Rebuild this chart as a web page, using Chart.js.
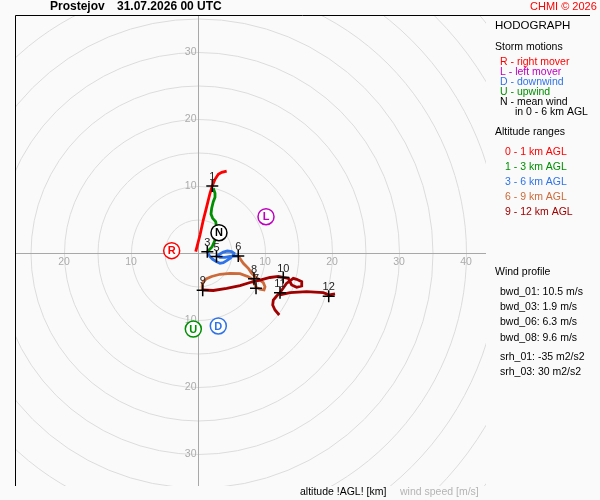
<!DOCTYPE html>
<html>
<head>
<meta charset="utf-8">
<script src="https://cdn.jsdelivr.net/npm/chart.js@4.4.1/dist/chart.umd.min.js"></script>
<style>
  html, body { margin: 0; padding: 0; background: #fafafa; }
  #wrap { width: 600px; height: 500px; }
</style>
</head>
<body>
<div id="wrap"><canvas id="hodo" width="600" height="500"></canvas></div>
<script>
// hodograph traces, wind components u / v in m/s
const u0_1 = [-0.34, 0.30, 0.79, 1.30, 1.79, 2.13, 2.54, 3.03, 3.54, 4.28];
const v0_1 = [0.24, 2.73, 4.97, 6.96, 8.96, 10.06, 11.04, 11.79, 12.09, 12.28];

const u1_3 = [2.28, 2.54, 2.54, 2.28, 2.04, 1.94, 2.19, 2.64, 2.84, 2.54, 2.09, 1.64, 1.39];
const v1_3 = [9.70, 8.96, 8.36, 7.70, 6.72, 5.87, 5.22, 4.72, 3.48, 1.99, 0.94, 0.49, 0.24];

const u3_6 = [1.39, 1.54, 1.79, 2.19, 2.79, 3.28, 3.78, 4.28, 4.78, 5.18, 5.37, 5.03, 4.37, 3.78, 3.28, 2.88, 3.28, 4.03, 4.78, 5.52, 6.01];
const v3_6 = [0.24, -0.10, -0.51, -0.90, -1.25, -1.49, -1.40, -1.10, -0.75, -0.40, 0.00, 0.24, 0.34, 0.19, -0.10, -0.40, -0.60, -0.60, -0.45, -0.40, -0.40];

const u6_9 = [6.01, 6.76, 7.51, 8.01, 8.66, 9.25, 9.75, 10.0, 9.85, 9.25, 8.66, 8.36, 8.16, 7.51, 6.27, 4.78, 3.28, 2.04, 1.19, 0.70, 0.60, 0.70];
const v6_9 = [-0.40, -1.49, -2.24, -2.99, -3.58, -3.99, -4.39, -4.99, -5.48, -5.37, -5.07, -4.48, -3.88, -3.49, -3.03, -2.99, -3.13, -3.46, -3.84, -4.39, -4.99, -5.48];

const u9_12 = [0.70, 2.28, 4.28, 6.27, 7.76, 9.25, 10.75, 11.99, 12.73, 13.48, 13.73, 13.98, 14.73, 15.48, 15.48, 14.73, 14.22, 13.2, 12.24, 11.74, 11.24, 11.15, 11.49, 12.13,
               null, 12.24, 13.73, 16.22, 18.70, 19.60, 20.45];
const v9_12 = [-5.48, -5.55, -5.25, -4.81, -4.36, -3.99, -3.61, -3.46, -3.61, -3.73, -4.24, -4.73, -5.07, -4.88, -4.24, -3.88, -3.73, -4.5, -5.88, -6.37, -6.97, -7.72, -8.46, -9.21,
               null, -6.22, -5.88, -5.73, -5.88, -6.22, -6.07];

// height marks [km]
const heightLabels = ['1', '3', '5', '6', '7', '8', '9', '10', '11', '12'];
const heightU = [2.13, 1.39, 2.76, 6.01, 8.66, 8.36, 0.70, 12.73, 12.24, 19.51];
const heightV = [10.04, 0.24, -0.48, -0.40, -5.22, -3.8, -5.52, -3.61, -5.88, -6.42];

// storm motions
const stormLabels = ['R', 'L', 'N', 'U', 'D'];
const stormU = [-3.93, 10.15, 3.13, -0.70, 3.03];
const stormV = [0.39, 5.46, 3.07, -11.3, -10.85];

// axes
const ringSpeeds = [5, 10, 15, 20, 25, 30, 35, 40, 45, 50, 55];
const xTickVals = [-20, -10, 10, 20, 30, 40];
const yTickVals = [30, 20, 10, -10, -20, -30];

// wind profile box
const profileNames = ['bwd_01', 'bwd_03', 'bwd_06', 'bwd_08', 'srh_01', 'srh_03'];
const profileValues = [10.5, 1.9, 6.3, 9.6, -35, 30];
const profileUnits = ['m/s', 'm/s', 'm/s', 'm/s', 'm2/s2', 'm2/s2'];

const FONT = '"Liberation Sans", Arial, sans-serif';
const RED = '#ff0000', PURPLE = '#c000c0', BLUE = '#2f73e8', GREEN = '#008f00', BROWN = '#cc6a3a', DARKRED = '#a00000';
const stormColors = [RED, PURPLE, '#000000', GREEN, BLUE];

const pts = (us, vs) => us.map((u, i) => ({ x: u, y: vs[i] }));

const trace = (data, color) => ({
    data: data,
    showLine: true,
    borderColor: color,
    borderWidth: 2.8,
    pointRadius: 0,
    spanGaps: false
});

// grid rings, axis lines, tick labels
const hodoGrid = {
    id: 'hodoGrid',
    beforeDatasetsDraw(chart) {
        const { ctx, chartArea: a, scales: { x, y } } = chart;
        const cx = Math.round(x.getPixelForValue(0)) + 0.5;
        const cy = Math.round(y.getPixelForValue(0)) + 0.5;
        ctx.save();
        ctx.beginPath();
        ctx.rect(a.left, a.top, a.right - a.left, a.bottom - a.top);
        ctx.clip();
        ctx.strokeStyle = '#dcdcdc';
        ctx.lineWidth = 1;
        ringSpeeds.forEach(s => {
            const r = x.getPixelForValue(s) - x.getPixelForValue(0);
            ctx.beginPath();
            ctx.arc(cx, cy, r, 0, Math.PI * 2);
            ctx.stroke();
        });
        ctx.strokeStyle = '#a8a8a8';
        ctx.beginPath();
        ctx.moveTo(a.left, cy); ctx.lineTo(a.right, cy);
        ctx.moveTo(cx, a.top); ctx.lineTo(cx, a.bottom);
        ctx.stroke();
        ctx.restore();

        ctx.save();
        ctx.font = '10.5px ' + FONT;
        ctx.fillStyle = '#ababab';
        ctx.textAlign = 'center';
        ctx.textBaseline = 'middle';
        xTickVals.forEach(t => ctx.fillText(String(Math.abs(t)), x.getPixelForValue(t), cy + 9));
        ctx.textAlign = 'right';
        yTickVals.forEach(t => ctx.fillText(String(Math.abs(t)), cx - 2, y.getPixelForValue(t)));
        ctx.restore();
    }
};

// letters in storm motion rings + height numbers
const hodoLabels = {
    id: 'hodoLabels',
    afterDatasetsDraw(chart) {
        const ctx = chart.ctx;
        ctx.save();
        ctx.textAlign = 'center';
        ctx.textBaseline = 'middle';
        ctx.font = '11px ' + FONT;
        ctx.fillStyle = '#222';
        chart.getDatasetMeta(1).data.forEach((p, i) => ctx.fillText(heightLabels[i], p.x, p.y - 9));
        ctx.font = 'bold 11px ' + FONT;
        chart.getDatasetMeta(0).data.forEach((p, i) => {
            ctx.fillStyle = stormColors[i];
            ctx.fillText(stormLabels[i], p.x, p.y + 0.5);
        });
        ctx.restore();
    }
};

// frame, title and the text panel on the right
const hodoText = {
    id: 'hodoText',
    afterDraw(chart) {
        const ctx = chart.ctx;
        const a = chart.chartArea;
        ctx.save();
        ctx.strokeStyle = '#000';
        ctx.lineWidth = 1;
        ctx.beginPath();
        ctx.moveTo(a.left + 0.5, a.bottom);
        ctx.lineTo(a.left + 0.5, a.top + 0.5);
        ctx.lineTo(590, a.top + 0.5);
        ctx.stroke();

        ctx.textBaseline = 'middle';
        ctx.textAlign = 'left';
        ctx.fillStyle = '#000';
        ctx.font = 'bold 12px ' + FONT;
        ctx.fillText('Prostejov', 50, 7);
        ctx.fillText('31.07.2026 00 UTC', 117, 7);
        ctx.font = '11px ' + FONT;
        ctx.fillStyle = RED;
        ctx.fillText('CHMI \u00a9 2026', 530, 7);

        ctx.fillStyle = '#000';
        ctx.font = '11.5px ' + FONT;
        ctx.fillText('HODOGRAPH', 495, 26);

        ctx.font = '10.5px ' + FONT;
        ctx.fillText('Storm motions', 495, 47);
        const motions = [['R - right mover', RED], ['L - left mover', PURPLE], ['D - downwind', BLUE],
                         ['U - upwind', GREEN], ['N - mean wind', '#000']];
        motions.forEach((m, i) => { ctx.fillStyle = m[1]; ctx.fillText(m[0], 500, 62 + i * 10); });
        ctx.fillStyle = '#000';
        ctx.fillText('in 0 - 6 km AGL', 515, 112);

        ctx.fillText('Altitude ranges', 495, 132);
        const ranges = [['0 - 1 km AGL', RED], ['1 - 3 km AGL', GREEN], ['3 - 6 km AGL', BLUE],
                        ['6 - 9 km AGL', BROWN], ['9 - 12 km AGL', DARKRED]];
        ranges.forEach((r, i) => { ctx.fillStyle = r[1]; ctx.fillText(r[0], 505, 152 + i * 15); });

        ctx.fillStyle = '#000';
        ctx.fillText('Wind profile', 495, 272);
        const rows = [292, 307, 322, 338, 357, 372];
        profileNames.forEach((n, i) => ctx.fillText(n + ': ' + profileValues[i] + ' ' + profileUnits[i], 500, rows[i]));

        ctx.fillText('altitude !AGL! [km]', 300, 492);
        ctx.fillStyle = '#b4b4b4';
        ctx.fillText('wind speed [m/s]', 400, 492);
        ctx.restore();
    }
};

new Chart(document.getElementById('hodo'), {
    type: 'scatter',
    data: {
        datasets: [
            {
                data: pts(stormU, stormV),
                pointStyle: 'circle',
                pointRadius: 8,
                pointBorderWidth: 1.5,
                pointBorderColor: stormColors,
                pointBackgroundColor: '#ffffff'
            },
            {
                data: pts(heightU, heightV),
                pointStyle: 'cross',
                pointRadius: 6,
                pointBorderWidth: 1.5,
                pointBorderColor: '#000000'
            },
            trace(pts(u9_12, v9_12), DARKRED),
            trace(pts(u6_9, v6_9), BROWN),
            trace(pts(u3_6, v3_6), BLUE),
            trace(pts(u1_3, v1_3), GREEN),
            trace(pts(u0_1, v0_1), RED)
        ]
    },
    options: {
        responsive: false,
        animation: false,
        layout: { padding: { left: 15, top: 15, right: 114, bottom: 14 } },
        scales: {
            x: { type: 'linear', min: -183 / 6.7, max: 288 / 6.7, display: false },
            y: { type: 'linear', min: -232.7 / 6.7, max: 238.3 / 6.7, display: false }
        },
        plugins: { legend: { display: false }, tooltip: { enabled: false } }
    },
    plugins: [hodoGrid, hodoLabels, hodoText]
});
</script>
</body>
</html>
